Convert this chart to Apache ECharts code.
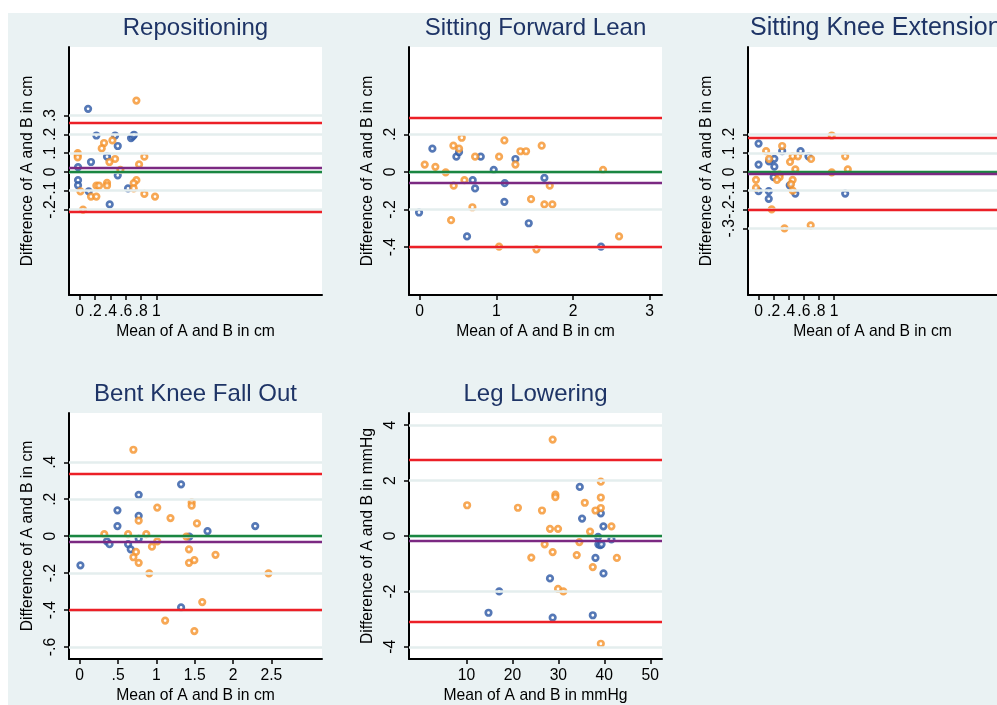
<!DOCTYPE html>
<html>
<head>
<meta charset="utf-8">
<script src="https://cdn.jsdelivr.net/npm/echarts@6/dist/echarts.min.js"></script>
<style>
html,body{margin:0;padding:0;background:#fff;}
#c{width:997px;height:705px;}
</style>
</head>
<body>
<div id="c"></div>
<script>
// ---------------- DATA ----------------
// Repositioning (cm)
const repBlue = [[0.109,0.336],[0.217,0.194],[0.461,0.194],[0.496,0.138],[0.669,0.180],[0.691,0.189],[0.708,0.198],[0.356,0.081],[0.147,0.053],[-0.022,0.026],[-0.022,-0.044],[-0.022,-0.071],[0.117,-0.103],[0.391,-0.173],[0.496,-0.018],[0.630,-0.088]];
const repOrange = [[0.739,0.380],[0.317,0.154],[0.287,0.125],[0.426,0.168],[-0.026,0.100],[-0.026,0.088],[-0.026,0.077],[0.843,0.081],[0.461,0.069],[0.387,0.053],[0.774,0.040],[0.530,0.011],[0.739,-0.044],[0.704,-0.060],[0.704,-0.088],[0.217,-0.073],[0.252,-0.073],[0.356,-0.058],[0.356,-0.073],[0.009,-0.103],[0.147,-0.131],[0.217,-0.131],[0.843,-0.117],[0.982,-0.131],[0.043,-0.201]];
const repLines = [0.260, 0.024, -0.211]; // upper LoA, mean difference, lower LoA
const repXTicks = [0, 0.2, 0.4, 0.6, 0.8, 1];
const repYTicks = [-0.2, -0.1, 0, 0.1, 0.2, 0.3];

// Sitting Forward Lean (cm)
const sflBlue = [[0.165,0.124],[0.478,0.081],[0.513,0.106],[0.796,0.081],[1.248,0.069],[0.965,0.011],[0.691,-0.044],[0.722,-0.088],[1.109,-0.060],[1.626,-0.032],[-0.009,-0.216],[1.104,-0.159],[1.422,-0.273],[0.617,-0.343],[2.365,-0.398]];
const sflOrange = [[0.548,0.182],[0.439,0.140],[0.513,0.124],[1.104,0.168],[1.591,0.140],[1.313,0.110],[1.387,0.110],[0.722,0.081],[1.035,0.081],[0.065,0.039],[0.204,0.027],[1.248,0.039],[0.339,-0.002],[2.391,0.011],[0.583,-0.044],[0.443,-0.073],[1.696,-0.073],[1.452,-0.145],[1.626,-0.173],[1.730,-0.173],[0.687,-0.188],[0.409,-0.257],[2.600,-0.343],[1.035,-0.398],[1.522,-0.412]];
const sflLines = [0.294, -0.055, -0.404];
const sflXTicks = [0, 1, 2, 3];
const sflYTicks = [-0.4, -0.2, 0, 0.2];

// Sitting Knee Extension (cm)
const skeBlue = [[0.0,0.151],[0.0,0.039],[0.139,0.056],[0.209,0.070],[0.209,0.028],[0.313,0.111],[0.557,0.111],[0.661,0.083],[0.2,-0.028],[0.413,-0.071],[0.487,-0.115],[0.0,-0.102],[0.135,-0.102],[0.135,-0.143],[1.148,-0.115]];
const skeOrange = [[0.97,0.194],[0.313,0.138],[0.1,0.111],[0.139,0.070],[0.452,0.083],[0.522,0.083],[0.696,0.069],[1.148,0.083],[0.417,0.054],[0.487,0.014],[1.183,0.014],[0.97,-0.002],[0.279,-0.014],[0.279,-0.028],[0.244,-0.042],[-0.034,-0.042],[-0.034,-0.085],[0.452,-0.042],[0.43,-0.065],[0.452,-0.099],[0.174,-0.199],[0.344,-0.300],[0.691,-0.284]];
const skeLines = [0.179, -0.009, -0.196];
const skeXTicks = [0, 0.2, 0.4, 0.6, 0.8, 1];
const skeYTicks = [-0.3, -0.2, -0.1, 0, 0.1, 0.2];

// Bent Knee Fall Out (cm)
const bkBlue = [[1.322,0.281],[0.769,0.224],[0.492,0.140],[0.769,0.110],[0.492,0.055],[2.289,0.055],[1.667,0.027],[1.43,-0.002],[0.354,-0.028],[0.389,-0.043],[0.631,-0.043],[0.665,-0.071],[0.769,-0.014],[0.009,-0.158],[1.322,-0.386]];
const bkOrange = [[0.700,0.468],[1.460,0.183],[1.460,0.165],[1.011,0.155],[1.184,0.098],[1.529,0.069],[0.769,0.084],[0.320,0.011],[0.631,0.011],[0.868,0.011],[1.391,-0.002],[1.011,-0.028],[0.942,-0.057],[1.425,-0.071],[0.734,-0.085],[0.700,-0.114],[0.769,-0.144],[1.425,-0.144],[1.495,-0.130],[1.771,-0.101],[0.907,-0.201],[2.462,-0.201],[1.598,-0.357],[1.114,-0.457],[1.495,-0.514]];
const bkLines = [0.336, -0.032, -0.402];
const bkXTicks = [0, 0.5, 1, 1.5, 2, 2.5];
const bkYTicks = [-0.6, -0.4, -0.2, 0, 0.2, 0.4];

// Leg Lowering (mmHg)
const llBlue = [[34.66,1.77],[35.16,0.63],[39.24,0.82],[39.8,0.35],[38.65,-0.03],[38.7,-0.30],[39.1,-0.33],[39.4,-0.30],[41.55,-0.12],[38.07,-0.79],[39.82,-1.35],[28.18,-1.53],[17.13,-2.0],[14.80,-2.77],[28.76,-2.95],[37.49,-2.86]];
const llOrange = [[28.76,3.48],[39.24,1.96],[29.35,1.49],[29.35,1.40],[39.24,1.39],[35.75,1.20],[39.24,1.01],[38.07,0.92],[10.15,1.11],[21.2,1.02],[26.44,0.92],[28.18,0.26],[29.93,0.26],[36.9,0.16],[41.55,0.35],[34.57,-0.22],[27.02,-0.30],[28.76,-0.58],[34.0,-0.69],[24.11,-0.78],[42.73,-0.79],[37.49,-1.12],[29.93,-1.91],[31.09,-2.0],[39.24,-3.89]];
const llLines = [2.756, -0.166, -3.087];
const llXTicks = [10, 20, 30, 40, 50];
const llYTicks = [-4, -2, 0, 2, 4];

const titles = ['Repositioning', 'Sitting Forward Lean', 'Sitting Knee Extension', 'Bent Knee Fall Out', 'Leg Lowering'];
const xNames = ['Mean of A and B in cm', 'Mean of A and B in cm', 'Mean of A and B in cm', 'Mean of A and B in cm', 'Mean of A and B in mmHg'];
const yNames = ['Difference of A and B in cm', 'Difference of A and B in cm', 'Difference of A and B in cm', 'Difference of A and B in cm', 'Difference of A and B in mmHg'];

// ---------------- LAYOUT / STYLE ----------------
const FONT = '"Liberation Sans", Arial, Helvetica, sans-serif';
const BLUE = '#2a56a4', ORANGE = '#f5922a';
const RED = '#ec2027', GREEN = '#1a8641', PURPLE = '#7b2982';
const GRIDC = '#e4eeee';
const TITLEC = '#1e3466';
const FS = 15.7;

const panels = [
  {left:69, top:47, w:253, h:248, x:[-0.14,3.16], y:[-0.655,0.665], blue:repBlue, orange:repOrange, lines:repLines, xt:repXTicks, yt:repYTicks, ts:24},
  {left:409, top:47, w:253, h:248, x:[-0.14,3.16], y:[-0.655,0.665], blue:sflBlue, orange:sflOrange, lines:sflLines, xt:sflXTicks, yt:sflYTicks, ts:24},
  {left:748, top:47, w:253, h:248, x:[-0.14,3.16], y:[-0.655,0.665], blue:skeBlue, orange:skeOrange, lines:skeLines, xt:skeXTicks, yt:skeYTicks, ts:25, tl:750},
  {left:69, top:413, w:253, h:249, x:[-0.14,3.16], y:[-0.665,0.667], blue:bkBlue, orange:bkOrange, lines:bkLines, xt:bkXTicks, yt:bkYTicks, ts:24},
  {left:409, top:413, w:253, h:249, x:[-2.5,52.55], y:[-4.44,4.44], blue:llBlue, orange:llOrange, lines:llLines, xt:llXTicks, yt:llYTicks, ts:24}
];

function fmt(v){
  if (Math.abs(v) < 1e-9) return '0';
  let s = String(+v.toFixed(4));
  return s.replace(/^(-?)0\./, '$1.');
}

const option = {
  animation: false,
  backgroundColor: '#ffffff',
  graphic: [{type:'rect', shape:{x:8, y:13, width:1000, height:700}, style:{fill:'#eaf2f3'}, z:-10, silent:true}],
  title: [], grid: [], xAxis: [], yAxis: [], series: []
};

panels.forEach((p, i) => {
  const t = {
    text: titles[i], top: p.top - 31, padding: 0,
    textStyle: {fontFamily: FONT, fontSize: p.ts, fontWeight: 'normal', color: TITLEC}
  };
  if (p.tl !== undefined) { t.left = p.tl; } else { t.left = p.left + p.w/2; t.textAlign = 'center'; }
  option.title.push(t);
  option.grid.push({left: p.left, top: p.top, width: p.w, height: p.h, show: true, backgroundColor: '#ffffff', borderWidth: 0, containLabel: false});
  option.xAxis.push({
    type: 'value', gridIndex: i, min: p.x[0], max: p.x[1],
    name: xNames[i], nameLocation: 'middle', nameGap: 29,
    nameTextStyle: {fontFamily: FONT, fontSize: FS, color: '#000'},
    axisLine: {show: true, onZero: false, lineStyle: {color: '#000', width: 2}},
    axisTick: {show: true, length: 5, customValues: p.xt, lineStyle: {color: '#000', width: 1.5}},
    axisLabel: {show: true, customValues: p.xt, margin: 9, formatter: fmt, fontFamily: FONT, fontSize: FS, color: '#000'},
    splitLine: {show: false}
  });
  option.yAxis.push({
    type: 'value', gridIndex: i, min: p.y[0], max: p.y[1],
    name: yNames[i], nameLocation: 'middle', nameGap: 33, nameRotate: 90,
    nameTextStyle: {fontFamily: FONT, fontSize: FS, color: '#000'},
    axisLine: {show: true, onZero: false, lineStyle: {color: '#000', width: 2}},
    axisTick: {show: true, length: 5, customValues: p.yt, lineStyle: {color: '#000', width: 1.5}},
    axisLabel: {show: true, customValues: p.yt, rotate: 90, margin: 10, formatter: fmt, fontFamily: FONT, fontSize: FS, color: '#000'},
    splitLine: {show: false}
  });
  // gridlines at tick values
  option.series.push({
    type: 'scatter', xAxisIndex: i, yAxisIndex: i, data: [], z: 1, silent: true,
    markLine: {silent: true, symbol: ['none','none'], label: {show: false}, animation: false,
      lineStyle: {color: GRIDC, width: 2.5, type: 'solid'},
      data: p.yt.map(v => ({yAxis: v}))}
  });
  // zero line, mean difference, limits of agreement
  option.series.push({
    type: 'scatter', xAxisIndex: i, yAxisIndex: i, data: [], z: 2, silent: true,
    markLine: {silent: true, symbol: ['none','none'], label: {show: false}, animation: false,
      data: [
        {yAxis: 0, lineStyle: {color: GREEN, width: 2.3, type: 'solid'}},
        {yAxis: p.lines[1], lineStyle: {color: PURPLE, width: 2.3, type: 'solid'}},
        {yAxis: p.lines[0], lineStyle: {color: RED, width: 2.3, type: 'solid'}},
        {yAxis: p.lines[2], lineStyle: {color: RED, width: 2.3, type: 'solid'}}
      ]}
  });
  option.series.push({
    type: 'scatter', xAxisIndex: i, yAxisIndex: i, data: p.blue, z: 3,
    symbol: 'circle', symbolSize: 5.5,
    itemStyle: {color: '#ffffff', borderColor: BLUE, borderWidth: 2.7}
  });
  option.series.push({
    type: 'scatter', xAxisIndex: i, yAxisIndex: i, data: p.orange, z: 4,
    symbol: 'circle', symbolSize: 5.5,
    itemStyle: {color: '#ffffff', borderColor: ORANGE, borderWidth: 2.7}
  });
});

const chart = echarts.init(document.getElementById('c'), null, {renderer: 'canvas'});
chart.setOption(option);
</script>
</body>
</html>
